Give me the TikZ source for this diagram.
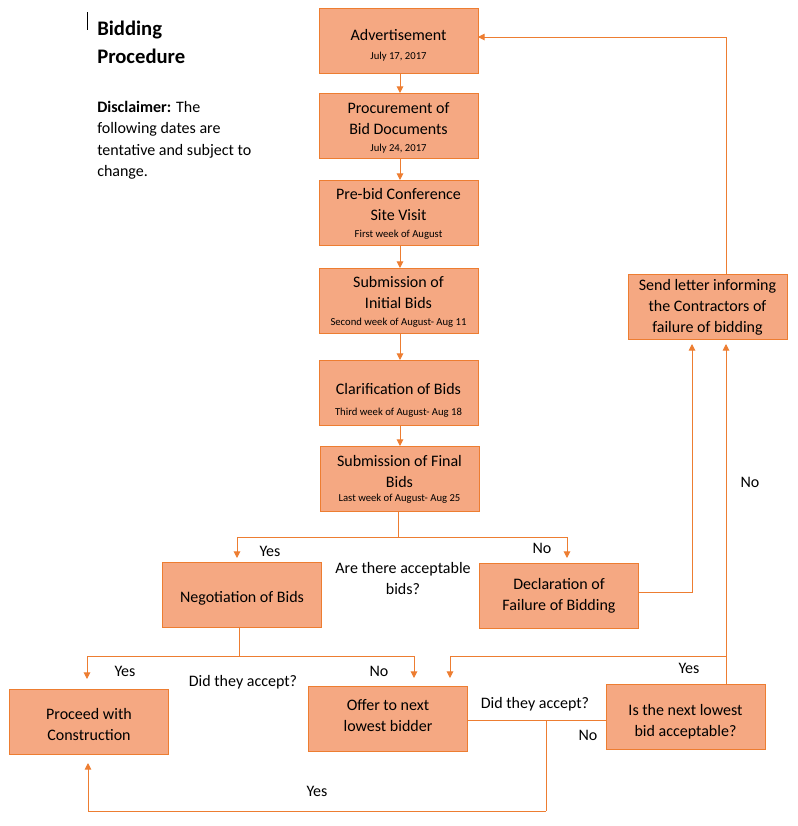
\documentclass[tikz,border=0pt]{standalone}
\usepackage{fontspec}
\setmainfont{Carlito}
\usetikzlibrary{arrows.meta,calc}
\definecolor{boxfill}{RGB}{245,168,130}
\definecolor{orangeline}{RGB}{237,125,49}
\tikzset{
  box/.style={draw=orangeline, fill=boxfill, line width=0.75pt, minimum width=119.25pt,
    minimum height=48.75pt, inner sep=0pt, outer sep=0pt},
  txt/.style={inner sep=0pt, align=center, font=\fontsize{12}{15.75}\selectfont},
  conn/.style={draw=orangeline, line width=0.75pt},
  arr/.style={conn, -{Triangle[width=5pt,length=5pt]}},
  lbl/.style={inner sep=0pt, align=center, font=\fontsize{12}{15.75}\selectfont},
}
\newcommand{\dt}[1]{{\fontsize{8}{9}\selectfont #1}}
\begin{document}
\begin{tikzpicture}[x=0.75pt,y=-0.75pt]
\useasboundingbox (0,0) rectangle (798,826);
% cursor mark
\draw[line width=0.6pt] (87,12) -- (87,30);
% title and disclaimer
\node[anchor=north west, inner sep=0pt, align=left, font=\fontsize{15.5}{21}\selectfont\bfseries] (title) at (97,21) {Bidding\\Procedure};
\node[anchor=north west, inner sep=0pt, align=left, font=\fontsize{12}{16}\selectfont] (disc) at (97,101) {\textbf{Disclaimer:} The\\following dates are\\tentative and subject to\\change.};
% boxes
\node[box] (adv) at (398.5,40.5) {};
\node[box] (proc) at (398.5,125.5) {};
\node[box] (pre) at (398.5,212.5) {};
\node[box] (init) at (398.5,300.5) {};
\node[box] (clar) at (398.5,392.5) {};
\node[box] (final) at (399.5,478.5) {};
\node[box] (neg) at (242,594.5) {};
\node[box] (decl) at (559,595.5) {};
\node[box] (proceed) at (89,721.5) {};
\node[box] (offer) at (388,718.5) {};
\node[box] (isnext) at (685.5,716.5) {};
\node[box] (letter) at (707.5,306.5) {};
% box texts
\node[txt] (advt) at ($(adv)+(0,4.5)$) {Advertisement\\[-1.5pt]\dt{July 17, 2017}};
\node[txt] (proct) at ($(proc)+(0,2)$) {Procurement of\\Bid Documents\\[-3pt]\dt{July 24, 2017}};
\node[txt] (pret) at ($(pre)+(0,1)$) {Pre-bid Conference\\Site Visit\\[-3pt]\dt{First week of August}};
\node[txt] (initt) at ($(init)+(0,1)$) {Submission of\\Initial Bids\\[-3pt]\dt{Second week of August- Aug 11}};
\node[txt] (clart) at ($(clar)+(0,8)$) {Clarification of Bids\\\dt{Third week of August- Aug 18}};
\node[txt] (finalt) at ($(final)+(0,1)$) {Submission of Final\\Bids\\[-5pt]\dt{Last week of August- Aug 25}};
\node[txt] (negt) at ($(neg)+(0,4)$) {Negotiation of Bids};
\node[txt] (declt) at (decl) {Declaration of\\Failure of Bidding};
\node[txt] (proceedt) at ($(proceed)+(0,3)$) {Proceed with\\Construction};
\node[txt] (offert) at ($(offer)+(0,-3)$) {Offer to next\\lowest bidder};
\node[txt] (isnextt) at ($(isnext)+(0,5)$) {Is the next lowest\\bid acceptable?};
\node[txt] (lettert) at ($(letter)+(0,1)$) {Send letter informing\\the Contractors of\\failure of bidding};
% helper coordinates
\coordinate (x400) at (400,0);
\coordinate (x726) at (726,0);
\coordinate (x692) at (692,0);
\coordinate (x450) at (450,0);
\coordinate (x546) at (546,0);
\coordinate (x88) at (88,0);
\coordinate (y37) at (0,37);
\coordinate (y720) at (0,720);
\coordinate (y592) at (0,592);
\coordinate (j1) at (398.5,537);
\coordinate (j2) at (239,656);
\coordinate (j3) at (726,656);
\coordinate (j4) at (546,811);
% main column arrows
\draw[arr] (adv.south -| x400) -- (proc.north -| x400);
\draw[arr] (proc.south -| x400) -- (pre.north -| x400);
\draw[arr] (pre.south -| x400) -- (init.north -| x400);
\draw[arr] (init.south -| x400) -- (clar.north -| x400);
\draw[arr] (clar.south -| x400) -- (final.north -| x400);
% first decision
\draw[conn] (final.south -| j1) -- (j1);
\draw[arr] (j1) -| ($(neg.north)+(-5,-4)$);
\draw[arr] (j1) -| ($(decl.north)+(8,-5)$);
% second decision
\draw[conn] (neg.south -| j2) -- (j2);
\draw[arr] (j2) -| ($(proceed.north)+(-2,-10)$);
\draw[arr] (j2) -| ($(offer.north)+(26,-8)$);
% next lowest loop
\draw[arr] (isnext.north -| x726) -- ($(letter.south -| x726)+(0,5)$);
\draw[arr] (j3) -| ($(offer.north -| x450)+(0,-8)$);
\draw[arr] (decl.east |- y592) -| ($(letter.south -| x692)+(0,5)$);
% offer to next lowest
\draw[conn] (offer.east |- y720) -- (isnext.west |- y720);
\draw[conn] (y720 -| x546) -- (j4);
\draw[arr] (j4) -| ($(proceed.south -| x88)+(0,9)$);
% back to advertisement
\draw[arr] (letter.north -| x726) |- (adv.east |- y37);
% labels
\node[lbl] (yes1) at (270,551) {Yes};
\node[lbl] (no1) at (542,548) {No};
\node[lbl] (q1) at (403,578) {Are there acceptable\\bids?};
\node[lbl] (yes2) at (125,671) {Yes};
\node[lbl] (no2) at (379,671) {No};
\node[lbl] (q2) at (243,682) {Did they accept?};
\node[lbl] (yes3) at (689,668) {Yes};
\node[lbl] (no3) at (750,482) {No};
\node[lbl] (q3) at (535,704) {Did they accept?};
\node[lbl] (no4) at (588,735) {No};
\node[lbl] (yes4) at (317,791) {Yes};
\end{tikzpicture}
\end{document}
